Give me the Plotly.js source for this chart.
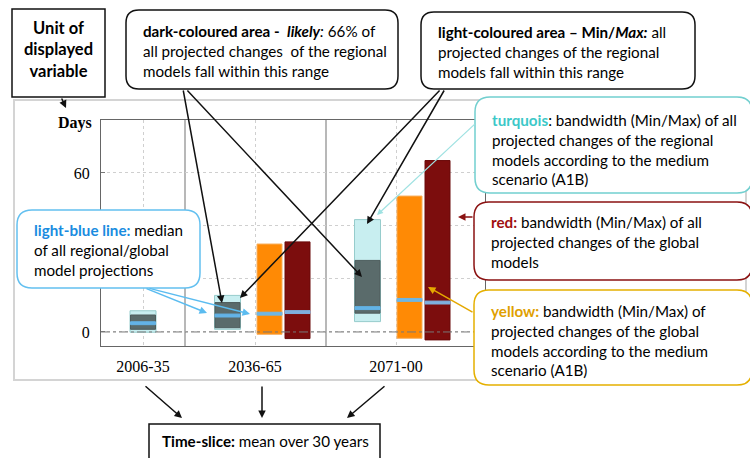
<!DOCTYPE html>
<html>
<head>
<meta charset="utf-8">
<script src="https://cdn.plot.ly/plotly-3.0.1.min.js"></script>
<style>html,body{margin:0;padding:0;background:#fff;}#chart{width:750px;height:458px;}</style>
</head>
<body>
<div id="chart"></div>
<script>
// ---------- data ----------
const categories = ['2006-35', '2036-65', '2071-00'];
// regional models, A1B: min/max (light) and likely range (dark), median
const rcmMin = [-0.1, 1.0, 3.9];
const rcmMax = [8.0, 13.8, 42.4];
const rcmLikelyMin = [1.0, 1.6, 7.1];
const rcmLikelyMax = [6.4, 11.1, 27.0];
const rcmMedian = [3.3, 6.2, 9.0];
// global models, A1B (yellow/orange)
const gcmA1BMin = [null, -0.9, -2.4];
const gcmA1BMax = [null, 33.2, 51.3];
const gcmA1BMedian = [null, 6.9, 12.1];
// global models, all scenarios (red)
const gcmAllMin = [null, -2.5, -3.0];
const gcmAllMax = [null, 34.0, 64.7];
const gcmAllMedian = [null, 7.5, 11.1];
const yTickVals = [0, 20, 40, 60];
const yTickText = ['0', '', '', '60'];
const unitLabel = 'Days';

// ---------- layout helpers ----------
const L = 101, R = 485, T = 120, B = 346;
const PW = R - L, PH = B - T;
const px = x => (x - L) / PW;
const py = y => (B - y) / PH;
const slotX = [42, 126.5, 266.5];     // x of regional bar in each slot (axis units)
const tickX = [42, 154, 295];
const sepX = [84, 225];
const offA1B = 42, offAll = 70;
const wR = 26, wG = 25;

function rng(mins, maxs, offs) {
  const x = [], base = [], y = [];
  mins.forEach((m, i) => {
    if (m === null) return;
    x.push(slotX[i] + offs); base.push(m); y.push(maxs[i] - m);
  });
  return {x, base, y};
}
function med(meds, offs) {
  const x = [], base = [], y = [];
  meds.forEach((m, i) => {
    if (m === null) return;
    x.push(slotX[i] + offs); base.push(m - 0.55); y.push(1.1);
  });
  return {x, base, y};
}
function barTrace(d, w, color, lineColor) {
  return {type: 'bar', x: d.x, y: d.y, base: d.base, width: w,
    marker: {color: color, line: {color: lineColor || color, width: 1}},
    hoverinfo: 'skip', showlegend: false};
}

const traces = [
  barTrace(rng(rcmMin, rcmMax, 0), wR, '#c8eef0', '#96cccc'),
  barTrace(rng(rcmLikelyMin, rcmLikelyMax, 0), wR - 1, '#5a6b6b', '#4e5d5d'),
  barTrace(med(rcmMedian, 0), wR - 1, '#63b3e6'),
  barTrace(rng(gcmA1BMin, gcmA1BMax, offA1B), wG, '#ff8a05', '#f8b060'),
  barTrace(med(gcmA1BMedian, offA1B), wG, '#6fb6e4'),
  barTrace(rng(gcmAllMin, gcmAllMax, offAll), wG, '#7c0d0d', '#6a0a0a'),
  barTrace(med(gcmAllMedian, offAll), wG, '#7fb0de')
];

function rr(x0, y0, x1, y1, r) {
  const P = (x, y) => px(x) + ',' + py(y);
  return 'M' + P(x0 + r, y0) + ' L' + P(x1 - r, y0) + ' Q' + P(x1, y0) + ' ' + P(x1, y0 + r) +
    ' L' + P(x1, y1 - r) + ' Q' + P(x1, y1) + ' ' + P(x1 - r, y1) +
    ' L' + P(x0 + r, y1) + ' Q' + P(x0, y1) + ' ' + P(x0, y1 - r) +
    ' L' + P(x0, y0 + r) + ' Q' + P(x0, y0) + ' ' + P(x0 + r, y0) + ' Z';
}
function box(x0, y0, x1, y1, r, color, w) {
  if (r) return {type: 'path', xref: 'paper', yref: 'paper', layer: 'above', path: rr(x0, y0, x1, y1, r),
    line: {color: color, width: w || 1.5}, fillcolor: '#ffffff'};
  return {type: 'rect', xref: 'paper', yref: 'paper', layer: 'above', x0: px(x0), x1: px(x1), y0: py(y0), y1: py(y1),
    line: {color: color, width: w || 1.5}, fillcolor: '#ffffff'};
}

const shapes = [
  // outer grey panel
  {type: 'rect', xref: 'paper', yref: 'paper', layer: 'below', x0: px(14), x1: px(746), y0: py(100), y1: py(380),
    line: {color: '#d4d4d4', width: 2}, fillcolor: 'rgba(0,0,0,0)'},
  // slot separators
  ...sepX.map(s => ({type: 'line', xref: 'x', yref: 'paper', layer: 'below', x0: s, x1: s, y0: 0, y1: 1,
    line: {color: '#a0a0a0', width: 1.5}})),
  // zero line
  {type: 'line', xref: 'paper', yref: 'y', layer: 'above', x0: 0, x1: 1, y0: 0, y1: 0,
    line: {color: '#777', width: 1, dash: 'dashdot'}},
  // callout boxes
  box(12, 9, 105, 97, 0, '#111', 1.5),
  box(126, 10, 398, 89, 13, '#111', 1.5),
  box(421, 12, 695, 89, 13, '#111', 1.5),
  box(475, 97, 752, 193, 15, '#72cfcf', 1.5),
  box(474, 202, 752, 280, 15, '#8b1212', 1.5),
  box(474, 290, 752, 385, 15, '#e5b000', 1.5),
  box(17, 210, 200, 288, 15, '#63c0f0', 1.5),
  box(149, 424, 380, 475, 0, '#111', 1.5)
];

const F = 'Lato, "Open Sans", sans-serif';
const FS = 15.2;
function txt(x, y, text, opts) {
  return Object.assign({xref: 'paper', yref: 'paper', x: px(x), y: py(y), text: text, showarrow: false,
    xanchor: 'left', yanchor: 'middle', align: 'left', font: {family: F, size: FS, color: '#000'}}, opts || {});
}
function arr(tx, ty, hx, hy, color, w) {
  return {xref: 'paper', yref: 'paper', x: px(hx), y: py(hy), ax: tx - hx, ay: ty - hy, text: '',
    showarrow: true, arrowhead: 2, arrowsize: 1, arrowwidth: w || 1.5, arrowcolor: color, standoff: 0, startstandoff: 0};
}

const annotations = [
  txt(75, 123, '<b>' + unitLabel + '</b>', {xanchor: 'center', font: {family: 'Liberation Serif, serif', size: 16, color: '#000'}}),
  txt(58, 50, '<b>Unit of<br>displayed<br>variable</b>', {xanchor: 'center', align: 'center', font: {family: F, size: 16.5, color: '#000'}}),
  txt(141, 51, '<b>dark-coloured area -  <i>likely</i></b><i>:</i> 66% of<br>all projected changes  of the regional<br>models fall within this range'),
  txt(436, 52, '<b>light-coloured area – Min/<i>Max:</i></b> all<br>projected changes of the regional<br>models fall within this range'),
  txt(490, 149.5, '<span style="color:#3cc8c8"><b>turquois</b></span>: bandwidth (Min/Max) of all<br>projected changes of the regional<br>models according to the medium<br>scenario (A1B)'),
  txt(489, 241.5, '<span style="color:#a01010"><b>red:</b></span> bandwidth (Min/Max) of all<br>projected changes of the global<br>models'),
  txt(489, 340, '<span style="color:#e0a000"><b>yellow:</b></span> bandwidth (Min/Max) of<br>projected changes of the global<br>models according to the medium<br>scenario (A1B)'),
  txt(32, 249.5, '<span style="color:#1a8ce0"><b>light-blue line:</b></span> median<br>of all regional/global<br>model projections'),
  txt(265, 441, '<b>Time-slice:</b> mean over 30 years', {xanchor: 'center'}),
  // arrows
  arr(61, 97, 66, 108, '#111'),
  arr(183, 89, 222, 303, '#111'),
  arr(186, 89, 362, 277, '#111'),
  arr(441, 89, 240, 298, '#111'),
  arr(445, 89, 367, 224, '#111'),
  arr(476, 123, 377, 215, '#9fe2e2', 1.2),
  arr(474, 217, 458, 217, '#8b1212'),
  arr(474, 313, 428, 287, '#e5a800'),
  arr(145, 288, 207, 313, '#5bbcf0'),
  arr(148, 288, 250, 314, '#5bbcf0'),
  arr(144, 385, 182, 418, '#111'),
  arr(262, 385, 262, 418, '#111'),
  arr(386, 385, 347, 418, '#111')
];

const layout = {
  width: 750, height: 458, autosize: false,
  margin: {l: L, r: 750 - R, t: T, b: 458 - B, pad: 0},
  paper_bgcolor: '#ffffff', plot_bgcolor: '#ffffff',
  barmode: 'overlay', showlegend: false,
  xaxis: {range: [0, PW], tickvals: tickX, ticktext: categories, showgrid: true, gridcolor: '#cfcfcf', griddash: 'dot',
    showline: true, linecolor: '#666', linewidth: 1, mirror: true, ticks: '', zeroline: false, fixedrange: true,
    ticklabelstandoff: 6, tickfont: {family: 'Liberation Serif, serif', size: 16, color: '#000'}},
  yaxis: {range: [-5.3, 80], tickvals: yTickVals, ticktext: yTickText, showgrid: true, gridcolor: '#cfcfcf', griddash: 'dot',
    showline: true, linecolor: '#666', linewidth: 1, mirror: 'ticks', ticks: 'inside', ticklen: 4, tickcolor: '#777',
    zeroline: false, fixedrange: true, ticklabelstandoff: 7,
    tickfont: {family: 'Liberation Serif, serif', size: 16, color: '#000'}},
  shapes: shapes,
  annotations: annotations
};

Plotly.newPlot('chart', traces, layout, {displayModeBar: false, staticPlot: true});
</script>
</body>
</html>
